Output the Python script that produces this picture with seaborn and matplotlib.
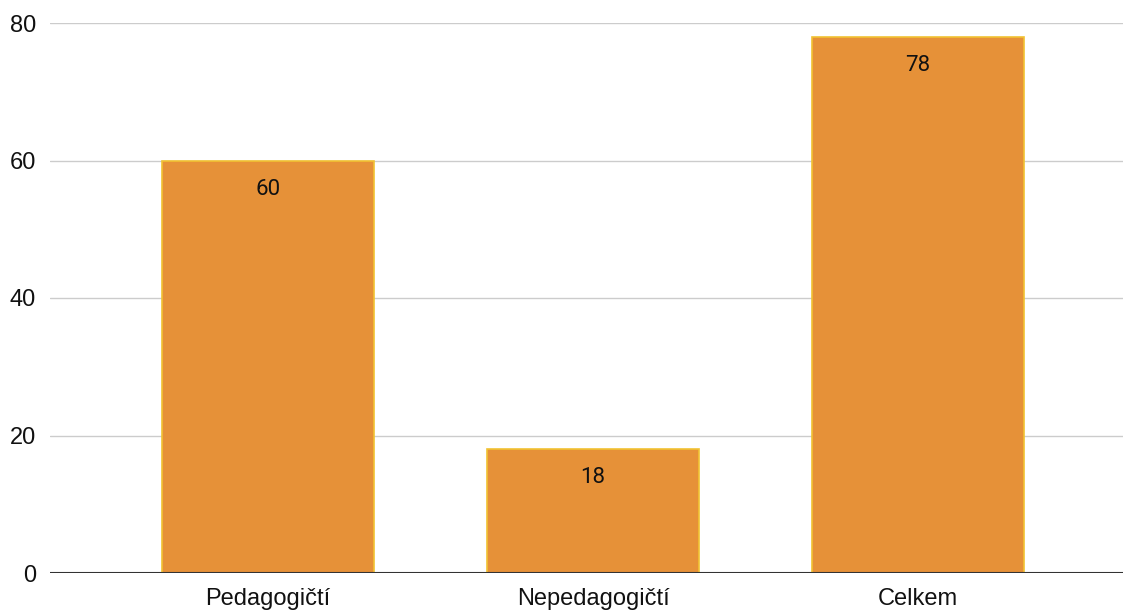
import matplotlib
matplotlib.use('Agg')
import matplotlib.pyplot as plt
import seaborn as sns
import pandas as pd

categories = ['Pedagogičtí', 'Nepedagogičtí', 'Celkem']
values = [60, 18, 78]
y_ticks = [0, 20, 40, 60, 80]

df = pd.DataFrame({'kategorie': categories, 'pocet': values})

sns.set_theme(style='white')
plt.rcParams['font.family'] = ['Liberation Sans', 'DejaVu Sans']

fig = plt.figure(figsize=(11.23, 6.12), dpi=100)
ax = fig.add_axes([50 / 1123, 39 / 612, 1073 / 1123, 550 / 612])

sns.barplot(data=df, x='kategorie', y='pocet', color='#E69138',
            saturation=1, width=0.65, edgecolor='#F1C232', linewidth=1.2,
            ax=ax, zorder=3)

# value labels just inside the top of each bar
for p, v in zip(ax.patches, values):
    ax.annotate(str(v), (p.get_x() + p.get_width() / 2, p.get_height()),
                xytext=(0, -13), textcoords='offset points',
                ha='center', va='top', fontsize=16, family='Roboto',
                color='#111111', zorder=4)

ax.set_ylim(0, 80)
ax.set_xlim(-0.67, 2.63)
ax.set_yticks(y_ticks)
ax.yaxis.grid(True, color='#cccccc', linewidth=1, zorder=0)
ax.axhline(0, color='#333333', linewidth=1.5, zorder=5)
for s in ax.spines.values():
    s.set_visible(False)
ax.tick_params(axis='both', length=0, labelsize=17, colors='#111111')
ax.tick_params(axis='y', pad=10)
ax.tick_params(axis='x', pad=11)
ax.set_xlabel('')
ax.set_ylabel('')

fig.savefig('out.png', dpi=100)
